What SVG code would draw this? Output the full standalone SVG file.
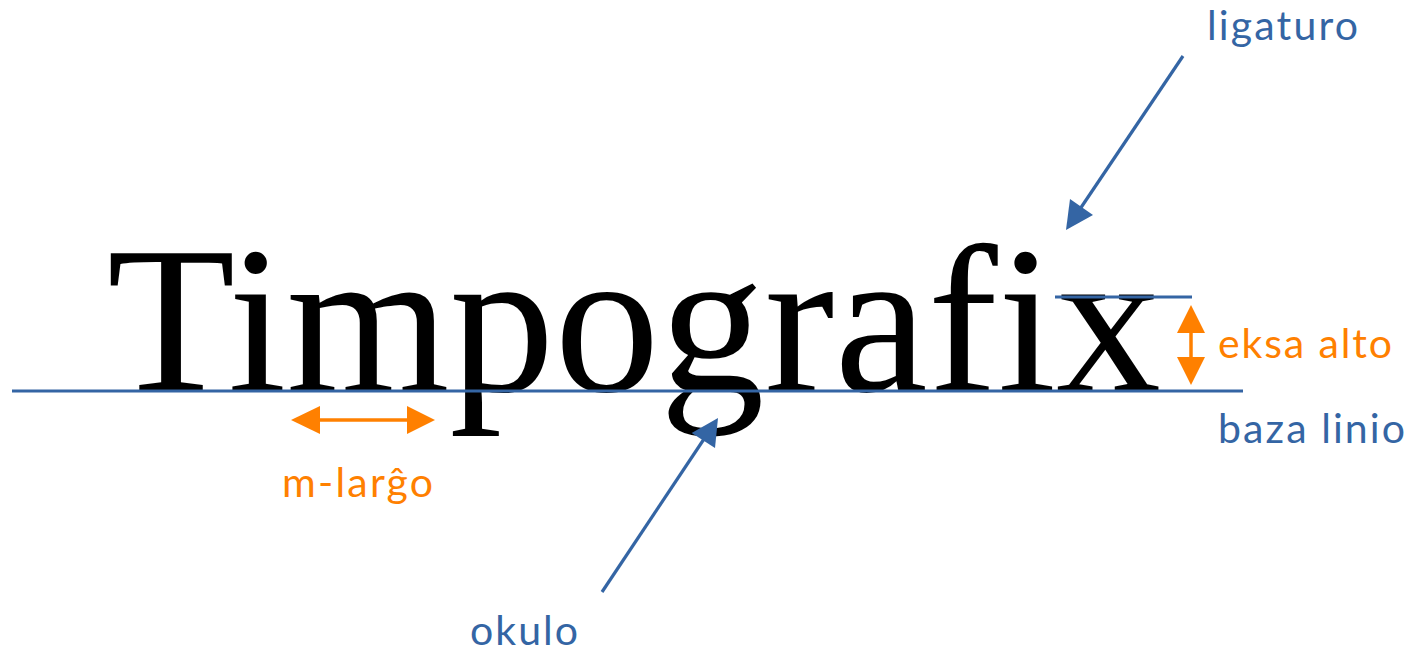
<svg xmlns="http://www.w3.org/2000/svg" width="1410" height="655" viewBox="0 0 1410 655">
<style>
.word{font-family:"Liberation Serif","DejaVu Serif",serif;font-size:210px;fill:#000;font-variant-ligatures:common-ligatures}
.lb{font-family:Lato,"Noto Sans",sans-serif;font-size:41px;fill:#3465a4}
.lo{font-family:Lato,"Noto Sans",sans-serif;font-size:41px;fill:#ff8000}
.bl{stroke:#3465a4;stroke-width:3.2;fill:none}
.ol{stroke:#ff8000;stroke-width:3.5;fill:none}
.bh{fill:#3465a4}
.oh{fill:#ff8000}
</style>
<rect width="1410" height="655" fill="#fff"/>
<g id="word">
<text class="word" x="107" y="391">Timpografix</text>
</g>
<g id="connectors">
<line class="bl" x1="12" y1="391" x2="1243" y2="391"/>
<line class="bl" x1="1055" y1="297" x2="1192" y2="297"/>
<line class="bl" x1="1183" y1="56" x2="1078" y2="212"/>
<polygon class="bh" points="1066,230 1070,199 1093,215"/>
<line class="bl" x1="602" y1="592" x2="706" y2="436"/>
<polygon class="bh" points="718,418 691.7,433 715,448"/>
<line class="ol" x1="1191" y1="330" x2="1191" y2="360"/>
<polygon class="oh" points="1191,305 1177,333 1205,333"/>
<polygon class="oh" points="1191,385 1177,357 1205,357"/>
<line class="ol" x1="318" y1="420" x2="409" y2="420"/>
<polygon class="oh" points="291,420 320,406 320,434"/>
<polygon class="oh" points="435,420 407,406 407,434"/>
</g>
<g id="label-ligaturo"><text class="lb" x="1207" y="40" textLength="151">ligaturo</text></g>
<g id="label-eksa-alto"><text class="lo" x="1218" y="358" textLength="174">eksa alto</text></g>
<g id="label-baza-linio"><text class="lb" x="1218" y="443" textLength="187">baza linio</text></g>
<g id="label-m-largo"><text class="lo" x="282" y="497" textLength="151">m-larĝo</text></g>
<g id="label-okulo"><text class="lb" x="470" y="645" textLength="108">okulo</text></g>
</svg>
